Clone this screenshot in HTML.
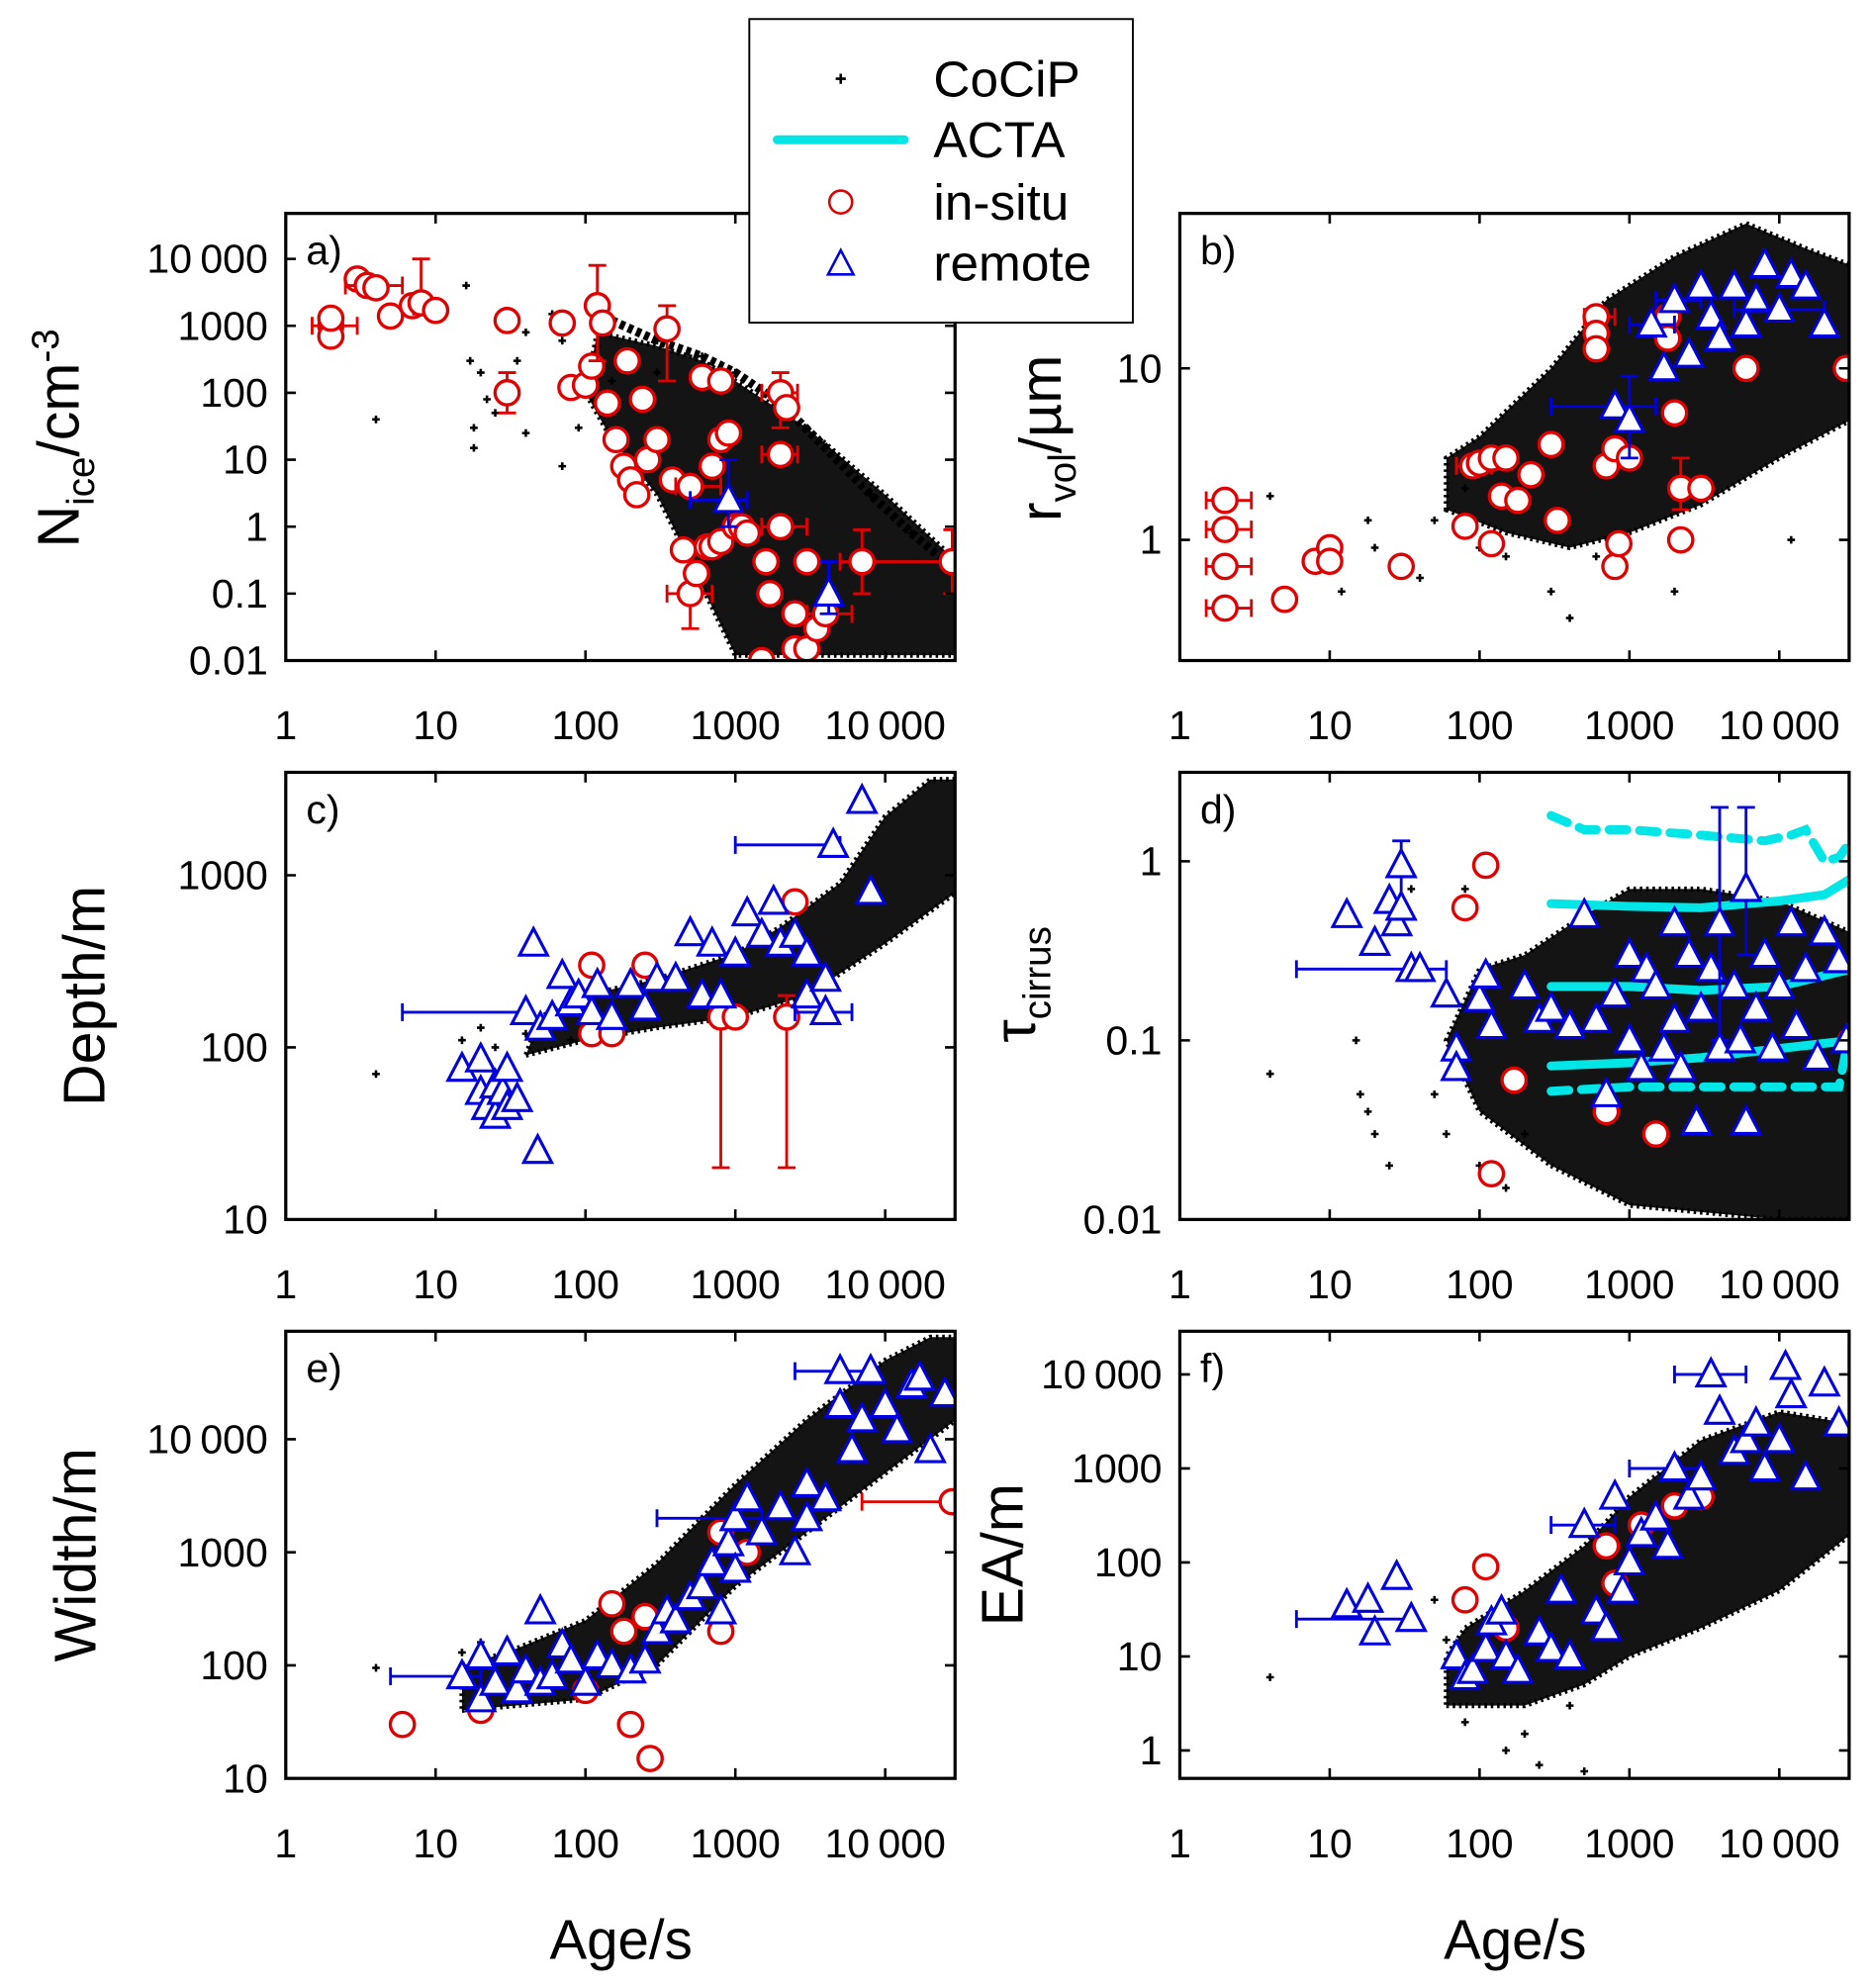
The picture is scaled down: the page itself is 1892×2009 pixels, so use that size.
<!DOCTYPE html>
<html><head><meta charset="utf-8"><style>
html,body{margin:0;padding:0;background:#fff;}
svg{display:block;font-family:"Liberation Sans",Arial,sans-serif;}
</style></head><body>
<svg id="fig" width="1892" height="2009" viewBox="0 0 1474 1565" preserveAspectRatio="none" xmlns="http://www.w3.org/2000/svg">
<rect width="1474" height="1565" fill="#fff"/>
</svg>
<script>
// ---------- DATA ----------
// each point: [age_s, value, xLo, xHi, yLo, yHi]  (0 = no error bar)
const cocipPolyA=[[120,800],[300,500],[600,300],[1000,150],[3000,30],[10000,3],[30000,0.3],[30000,0.012],[1000,0.012],[500,0.3],[300,3],[150,20],[100,100]];
const cocipStripeA=[[150,1200],[300,600],[600,350],[1000,200],[2000,70],[4000,15],[8000,3],[15000,0.8],[28000,0.25]];
const cocipPtsA=[[4,40],[16,4000],[17,300],[18,30],[18,15],[20,200],[22,80],[25,50],[30,120],[35,300],[40,25],[40,800],[60,1500],[70,600],[90,150],[90,30],[70,8],[120,500],[150,150],[200,400],[250,90],[300,200],[1500,0.013]];
const insituA=[[2,1000,1.5,3,0,0],[2,700,0,0,0,0],[2,1300,0,0,0,0],[3,5000,0,0,0,0],[3.5,4000,2.5,6,0,0],[4,3700,0,0,0,0],[5,1400,0,0,0,0],[7,2000,0,0,0,0],[8,2200,0,0,1500,10000],[10,1700,0,0,0,0],[30,1200,0,0,0,0],[30,100,0,0,50,200],[70,1100,0,0,0,0],[80,120,0,0,0,0],[100,130,0,0,0,0],[110,250,0,0,0,0],[120,2000,0,0,300,8000],[130,1100,0,0,0,0],[140,70,0,0,0,0],[160,20,0,0,0,0],[180,8,0,0,0,0],[190,300,0,0,0,0],[200,5,0,0,0,0],[220,3,0,0,0,0],[240,80,0,0,0,0],[260,10,0,0,0,0],[300,20,0,0,0,0],[350,900,0,0,150,2000],[380,5,0,0,0,0],[450,0.45,0,0,0,0],[500,0.1,350,700,0.03,0.3],[500,4,400,800,0,0],[550,0.2,0,0,0,0],[600,170,0,0,0,0],[650,0.5,0,0,0,0],[700,0.5,0,0,0,0],[700,8,0,0,0,0],[800,150,0,0,0,0],[800,20,0,0,0,0],[800,0.6,0,0,0,0],[900,25,0,0,0,0],[1000,1,0,0,0,0],[1100,1,0,0,0,0],[1200,0.8,0,0,0,0],[1500,0.01,0,0,0,0],[1600,0.3,0,0,0,0],[1700,0.1,0,0,0,0],[2000,100,1500,2600,30,200],[2000,1,1500,3000,0,0],[2000,12,1500,2600,0,0],[2200,60,0,0,0,0],[2500,0.05,0,0,0,0],[2500,0.015,0,0,0,0],[3000,0.3,0,0,0,0],[3000,0.015,0,0,0,0],[3500,0.03,0,0,0,0],[4000,0.05,3000,6000,0,0],[7000,0.3,5000,30000,0.1,0.9],[28000,0.3,0,0,0.1,0.9]];
const remoteA=[[900,2.5,500,1200,1,10],[4200,0.1,0,0,0.05,0.3]];

const cocipPolyB=[[60,1.5],[150,1.1],[400,0.9],[1000,1.1],[3000,1.6],[10000,3],[30000,5],[30000,40],[15000,50],[6000,70],[2000,45],[700,25],[300,10],[100,4],[60,3]];
const cocipPtsB=[[4,1.8],[12,0.5],[18,1.3],[20,0.9],[30,0.8],[40,0.6],[50,1.3],[80,2],[100,0.9],[150,0.8],[300,0.5],[400,0.35],[600,0.8],[2000,0.5],[12000,1]];
const insituB=[[2,1.7,1.5,3,0,0],[2,1.15,1.5,3,0,0],[2,0.7,1.5,3,0,0],[2,0.4,1.5,3,0,0],[5,0.45,0,0,0,0],[8,0.75,0,0,0,0],[10,0.9,0,0,0,0],[10,0.75,0,0,0,0],[30,0.7,0,0,0,0],[80,1.2,0,0,0,0],[90,2.7,70,120,0,0],[100,2.8,0,0,0,0],[120,3,0,0,0,0],[120,0.95,0,0,0,0],[140,1.8,0,0,0,0],[150,3,0,0,0,0],[180,1.7,0,0,0,0],[220,2.4,0,0,0,0],[300,3.6,0,0,0,0],[330,1.3,0,0,0,0],[600,20,500,800,0,0],[600,16,0,0,0,0],[600,13,0,0,0,0],[700,2.7,0,0,0,0],[800,3.4,0,0,0,0],[800,0.7,0,0,0,0],[850,0.95,0,0,0,0],[1000,3,0,0,0,0],[1800,20,0,0,0,0],[1800,15,0,0,0,0],[2000,5.5,0,0,0,0],[2200,1,0,0,0,0],[2200,2,0,0,1.5,3],[3000,2,0,0,0,0],[6000,10,0,0,0,0],[28000,10,0,0,0,0]];
const remoteB=[[800,6,300,1500,0,0],[1000,5,0,0,3,9],[1400,18,1000,2000,0,0],[1700,10,0,0,0,0],[2000,25,1500,3000,0,0],[2500,12,0,0,0,0],[3000,30,0,0,0,0],[3500,20,0,0,0,0],[4000,15,0,0,0,0],[5000,30,0,0,0,0],[6000,18,0,0,0,0],[7000,25,0,0,0,0],[8000,40,0,0,0,0],[10000,22,5000,20000,0,0],[12000,35,0,0,0,0],[15000,30,0,0,0,0],[20000,18,0,0,0,0]];

const cocipPolyC=[[40,90],[100,110],[300,130],[1000,150],[3000,200],[10000,400],[30000,800],[30000,3600],[20000,3600],[10000,2200],[5000,900],[2000,500],[1000,350],[300,250],[100,200],[50,150]];
const cocipPtsC=[[4,70],[15,110],[20,130],[25,100],[40,120],[60,140],[80,110]];
const insituC=[[110,300,0,0,0,0],[110,120,0,0,0,0],[150,120,0,0,0,0],[250,300,0,0,0,0],[800,150,0,0,20,200],[1000,150,0,0,0,0],[2200,150,0,0,20,200],[2500,700,0,0,0,0]];
const remoteC=[[15,75,0,0,0,0],[20,85,0,0,0,0],[20,55,0,0,0,0],[22,45,0,0,0,0],[25,40,0,0,0,0],[25,60,0,0,0,0],[28,55,0,0,0,0],[30,75,0,0,0,0],[30,45,0,0,0,0],[35,50,0,0,0,0],[40,160,6,40,0,0],[45,400,0,0,0,0],[48,25,0,0,0,0],[50,130,0,0,0,0],[60,150,0,0,0,0],[70,260,0,0,0,0],[80,180,0,0,0,0],[90,200,0,0,0,0],[110,160,0,0,0,0],[120,230,0,0,0,0],[150,150,0,0,0,0],[200,230,0,0,0,0],[250,170,0,0,0,0],[300,250,0,0,0,0],[400,250,0,0,0,0],[500,460,0,0,0,0],[600,200,0,0,0,0],[700,400,0,0,0,0],[800,200,0,0,0,0],[1000,350,0,0,0,0],[1200,600,0,0,0,0],[1500,450,0,0,0,0],[1800,700,0,0,0,0],[2000,400,0,0,0,0],[2500,450,0,0,0,0],[3000,350,0,0,0,0],[3000,200,0,0,0,0],[4000,250,0,0,0,0],[4000,160,2500,6000,0,0],[4500,1500,1000,5000,0,0],[7000,2700,0,0,0,0],[8000,800,0,0,0,0]];

const cocipPolyD=[[300,0.02],[1000,0.012],[10000,0.01],[30000,0.01],[30000,0.4],[10000,0.6],[3000,0.7],[1000,0.7],[500,0.5],[200,0.3],[100,0.25],[60,0.1],[100,0.04]];
const cocipPtsD=[[4,0.065],[15,0.1],[16,0.05],[18,0.04],[20,0.03],[25,0.02],[50,0.05],[60,0.03],[100,0.02],[150,0.015],[200,0.03],[35,0.7],[80,0.7]];
const insituD=[[80,0.55,0,0,0,0],[110,0.95,0,0,0,0],[120,0.018,0,0,0,0],[170,0.06,0,0,0,0],[700,0.04,0,0,0,0],[1500,0.03,0,0,0,0],[30000,0.1,0,0,0,0]];
const remoteD=[[13,0.5,0,0,0,0],[20,0.35,0,0,0,0],[25,0.6,0,0,0,0],[28,0.45,0,0,0,0],[30,0.95,0,0,0.5,1.3],[30,0.55,0,0,0,0],[35,0.25,6,60,0,0],[40,0.25,0,0,0,0],[60,0.18,0,0,0,0],[70,0.09,0,0,0,0],[70,0.07,0,0,0,0],[100,0.17,0,0,0,0],[110,0.23,0,0,0,0],[120,0.12,0,0,0,0],[200,0.2,0,0,0,0],[250,0.13,0,0,0,0],[300,0.15,0,0,0,0],[400,0.12,0,0,0,0],[500,0.5,0,0,0,0],[600,0.13,0,0,0,0],[700,0.05,0,0,0,0],[800,0.18,0,0,0,0],[1000,0.1,0,0,0,0],[1000,0.3,0,0,0,0],[1200,0.07,0,0,0,0],[1300,0.25,0,0,0,0],[1500,0.2,0,0,0,0],[1700,0.09,0,0,0,0],[2000,0.13,0,0,0,0],[2000,0.45,0,0,0,0],[2200,0.07,0,0,0,0],[2500,0.3,0,0,0,0],[2800,0.035,0,0,0,0],[3000,0.15,0,0,0,0],[3500,0.25,0,0,0,0],[4000,0.45,0,0,0.1,2],[4000,0.09,0,0,0,0],[5000,0.2,0,0,0,0],[5500,0.1,0,0,0,0],[6000,0.7,0,0,0.3,2],[6000,0.035,0,0,0,0],[7000,0.15,0,0,0,0],[8000,0.3,0,0,0,0],[9000,0.09,0,0,0,0],[10000,0.2,0,0,0,0],[12000,0.45,0,0,0,0],[13000,0.12,0,0,0,0],[15000,0.25,0,0,0,0],[18000,0.08,0,0,0,0],[20000,0.4,0,0,0,0],[25000,0.28,0,0,0,0],[28000,0.1,0,0,0,0]];
const actaUpperD=[[300,1.8],[500,1.5],[1000,1.5],[3000,1.4],[8000,1.3],[12000,1.4],[15000,1.5],[20000,1.0],[25000,1.05],[30000,1.3]];
const actaMidD=[[300,0.58],[1000,0.56],[3000,0.55],[10000,0.6],[20000,0.65],[30000,0.8]];
const actaLowD=[[300,0.2],[1000,0.2],[3000,0.19],[10000,0.2],[30000,0.25]];
const actaLow2D=[[300,0.072],[1000,0.075],[3000,0.08],[10000,0.09],[30000,0.1]];
const actaBotD=[[300,0.052],[1000,0.055],[3000,0.055],[10000,0.055],[25000,0.055],[30000,0.12]];

const cocipPolyE=[[15,40],[100,50],[300,100],[1000,500],[3000,1500],[10000,5000],[30000,15000],[30000,80000],[20000,80000],[10000,50000],[3000,15000],[1000,4000],[300,800],[100,250],[30,130],[15,100]];
const cocipPtsE=[[4,95],[15,130],[20,160]];
const insituE=[[6,30,0,0,0,0],[20,40,0,0,0,0],[100,60,0,0,0,0],[150,350,0,0,0,0],[180,200,0,0,0,0],[200,30,0,0,0,0],[250,270,0,0,0,0],[270,15,0,0,0,0],[800,200,0,0,0,0],[800,1500,0,0,0,0],[1200,1000,0,0,0,0],[28000,2800,7000,30000,0,0]];
const remoteE=[[15,80,5,20,0,0],[20,50,0,0,0,0],[20,120,0,0,0,0],[25,70,0,0,0,0],[30,130,0,0,0,0],[35,60,0,0,0,0],[40,90,0,0,0,0],[50,300,0,0,0,0],[50,70,0,0,0,0],[60,80,0,0,0,0],[70,150,0,0,0,0],[80,110,0,0,0,0],[100,70,0,0,0,0],[120,120,0,0,0,0],[150,100,0,0,0,0],[200,90,0,0,0,0],[250,110,0,0,0,0],[300,200,0,0,0,0],[350,300,0,0,0,0],[400,250,0,0,0,0],[500,400,0,0,0,0],[600,500,0,0,0,0],[700,800,0,0,0,0],[800,300,0,0,0,0],[900,1200,0,0,0,0],[1000,2000,300,1500,0,0],[1000,700,0,0,0,0],[1200,3000,0,0,0,0],[1500,1500,0,0,0,0],[2000,2500,0,0,0,0],[2500,1000,0,0,0,0],[3000,4000,0,0,0,0],[3000,2000,0,0,0,0],[4000,3000,0,0,0,0],[5000,20000,0,0,0,0],[5000,40000,2500,8000,0,0],[6000,8000,0,0,0,0],[7000,15000,0,0,0,0],[8000,40000,0,0,0,0],[10000,20000,0,0,0,0],[12000,12000,0,0,0,0],[15000,30000,0,0,0,0],[17000,35000,0,0,0,0],[20000,8000,0,0,0,0],[25000,25000,0,0,0,0]];

const cocipPolyF=[[60,3],[200,3],[500,5],[1000,10],[3000,20],[10000,50],[30000,200],[30000,3000],[10000,4000],[3000,2000],[1000,500],[500,150],[200,50],[80,20],[60,10]];
const cocipPtsF=[[4,6],[50,40],[60,15],[80,2],[150,1],[200,1.5],[250,0.7],[500,0.6],[400,3]];
const insituF=[[80,40,0,0,0,0],[110,90,0,0,0,0],[150,20,0,0,0,0],[700,150,0,0,0,0],[800,60,0,0,0,0],[1200,250,0,0,0,0],[2000,400,0,0,0,0],[3000,500,0,0,0,0]];
const remoteF=[[13,35,0,0,0,0],[18,40,0,0,0,0],[20,18,0,0,0,0],[28,70,0,0,0,0],[35,25,6,35,0,0],[70,10,0,0,0,0],[80,6,0,0,0,0],[90,7,0,0,0,0],[110,12,0,0,0,0],[120,23,0,0,0,0],[140,30,0,0,0,0],[150,10,0,0,0,0],[180,7,0,0,0,0],[250,18,0,0,0,0],[300,12,0,0,0,0],[350,50,0,0,0,0],[400,10,0,0,0,0],[500,250,300,800,0,0],[600,30,0,0,0,0],[700,20,0,0,0,0],[800,500,0,0,0,0],[900,50,0,0,0,0],[1000,100,0,0,0,0],[1200,200,0,0,0,0],[1500,300,0,0,0,0],[1800,150,0,0,0,0],[2000,1000,1000,3000,0,0],[2500,500,0,0,0,0],[3000,800,0,0,0,0],[3500,10000,2000,6000,0,0],[4000,4000,0,0,0,0],[5000,1500,0,0,0,0],[6000,2000,0,0,0,0],[7000,3000,0,0,0,0],[8000,1000,0,0,0,0],[10000,2000,0,0,0,0],[11000,12000,0,0,0,0],[12000,6000,0,0,0,0],[15000,800,0,0,0,0],[20000,8000,0,0,0,0],[25000,3000,0,0,0,0]];

const xTickLabels=["1","10","100","1000","10\u2009000"];
const yTicksA=["0.01","0.1","1","10","100","1000","10\u2009000"];
const yTicksB=["1","10"];
const yTicksC=["10","100","1000"];
const yTicksD=["0.01","0.1","1"];
const yTicksE=["10","100","1000","10\u2009000"];
const yTicksF=["1","10","100","1000","10\u2009000"];

// ---------- DRAW ----------
const NS="http://www.w3.org/2000/svg";
const svg=document.getElementById('fig');
function mk(tag,attrs,parent){const e=document.createElementNS(NS,tag);for(const k in attrs)e.setAttribute(k,attrs[k]);(parent||svg).appendChild(e);return e;}
const DEC=118;
function makeAxes(left,top,bottom,refVal,refPix,pxPerDec){
  return {x:a=>left+Math.log10(a)*DEC, y:v=>refPix-(Math.log10(v)-Math.log10(refVal))*pxPerDec, left,top,bottom,right:left+527};
}
function drawPanel(name,ax,poly,stripe,pts){
  const g=mk('g',{});
  
  
  const cid='clip-'+name;
  const cp=mk('clipPath',{id:cid},g);mk('rect',{x:ax.left,y:ax.top,width:ax.right-ax.left,height:ax.bottom-ax.top},cp);
  const plot=mk('g',{'clip-path':'url(#'+cid+')'},g);
  const cloud=mk('polygon',{points:poly.map(p=>ax.x(p[0])+','+ax.y(p[1])).join(' '),fill:'#000','fill-opacity':0.92,stroke:'#000','stroke-width':4,'stroke-dasharray':'2 3'},plot);
  
  
  const allPts=pts.concat(stripe||[]);
  allPts.forEach(p=>{const cx=ax.x(p[0]),cy=ax.y(p[1]);
    const c=mk('path',{d:`M${cx-3},${cy}h6M${cx},${cy-3}v6`,stroke:'#000','stroke-width':2},plot);
    
    });
  if(stripe){const s=mk('polyline',{points:stripe.map(p=>ax.x(p[0])+','+ax.y(p[1])).join(' '),fill:'none',stroke:'#000','stroke-width':7,'stroke-dasharray':'4 3'},plot);
    
    }
  return {g,plot};
}
function errs(par,ax,p,col){
  const cx=ax.x(p[0]),cy=ax.y(p[1]);const w=2.2,c=7;
  if(p[2]){const x1=ax.x(p[2]),x2=ax.x(p[3]);mk('path',{d:`M${x1},${cy}H${x2}M${x1},${cy-c}v${2*c}M${x2},${cy-c}v${2*c}`,stroke:col,'stroke-width':w,fill:'none'},par);}
  if(p[4]){const y1=ax.y(p[4]),y2=ax.y(p[5]);mk('path',{d:`M${cx},${y1}V${y2}M${cx-c},${y1}h${2*c}M${cx-c},${y2}h${2*c}`,stroke:col,'stroke-width':w,fill:'none'},par);}
}
function circles(par,ax,arr){arr.forEach(p=>{errs(par,ax,p,'#e00000');
  const c=mk('circle',{cx:ax.x(p[0]),cy:ax.y(p[1]),r:9.5,fill:'#fff',stroke:'#e00000','stroke-width':2.6},par);
  
  });}
function tris(par,ax,arr){arr.forEach(p=>{errs(par,ax,p,'#0000e0');
  const cx=ax.x(p[0]),cy=ax.y(p[1]);
  const t=mk('polygon',{points:`${cx},${cy-12} ${cx-11},${cy+9} ${cx+11},${cy+9}`,fill:'#fff',stroke:'#0000e0','stroke-width':2.4},par);
  
  });}
function frame(g,ax,letter,yTicks,firstVal,xlabels){
  mk('rect',{x:ax.left,y:ax.top,width:ax.right-ax.left,height:ax.bottom-ax.top,fill:'none',stroke:'#000','stroke-width':2.5},g);
  for(let i=0;i<5;i++){const x=ax.left+i*DEC;
    mk('path',{d:`M${x},${ax.bottom}v-8M${x},${ax.top}v8`,stroke:'#000','stroke-width':2},g);
    const t=mk('text',{x:x,y:ax.bottom+62,'font-size':32,'text-anchor':'middle'},g);t.textContent=xlabels[i];
    
    }
  yTicks.forEach((lab,i)=>{const y=ax.y(firstVal*Math.pow(10,i));
    mk('path',{d:`M${ax.left},${y}h8M${ax.right},${y}h-8`,stroke:'#000','stroke-width':2},g);
    const t=mk('text',{x:ax.left-14,y:y+11,'font-size':32,'text-anchor':'end'},g);t.textContent=lab;
    
    });
  const l=mk('text',{x:ax.left+16,y:ax.top+40,'font-size':32},g);l.textContent=letter;
  
  
}
function ylab(html,cx,cy,name){const t=mk('text',{x:0,y:0,'font-size':46,'text-anchor':'middle',transform:`translate(${cx},${cy}) rotate(-90)`});t.innerHTML=html;
  
  }

const axA=makeAxes(225,168,520,0.01,520,52.7);
const axB=makeAxes(929,168,520,1,425,135);
const axC=makeAxes(225,608,960,10,960,135.5);
const axD=makeAxes(929,608,960,0.01,960,141);
const axE=makeAxes(225,1048,1400,10,1400,89);
const axF=makeAxes(929,1048,1400,1,1378,74);

let P;
P=drawPanel('panel-a-nice',axA,cocipPolyA,cocipStripeA,cocipPtsA);circles(P.plot,axA,insituA);tris(P.plot,axA,remoteA);frame(P.g,axA,'a)',yTicksA,0.01,xTickLabels);
P=drawPanel('panel-b-rvol',axB,cocipPolyB,null,cocipPtsB);circles(P.plot,axB,insituB);tris(P.plot,axB,remoteB);frame(P.g,axB,'b)',yTicksB,1,xTickLabels);
P=drawPanel('panel-c-depth',axC,cocipPolyC,null,cocipPtsC);circles(P.plot,axC,insituC);tris(P.plot,axC,remoteC);frame(P.g,axC,'c)',yTicksC,10,xTickLabels);
P=drawPanel('panel-d-tau',axD,cocipPolyD,null,cocipPtsD);
[[actaUpperD,'14 10'],[actaMidD,''],[actaLowD,''],[actaLow2D,''],[actaBotD,'14 10']].forEach(([arr,da])=>{
  const l=mk('polyline',{points:arr.map(p=>axD.x(p[0])+','+axD.y(p[1])).join(' '),fill:'none',stroke:'#00e5e5','stroke-width':7,'stroke-dasharray':da,'stroke-linecap':'round'},P.plot);
  
  });
circles(P.plot,axD,insituD);tris(P.plot,axD,remoteD);frame(P.g,axD,'d)',yTicksD,0.01,xTickLabels);
P=drawPanel('panel-e-width',axE,cocipPolyE,null,cocipPtsE);circles(P.plot,axE,insituE);tris(P.plot,axE,remoteE);frame(P.g,axE,'e)',yTicksE,10,xTickLabels);
P=drawPanel('panel-f-ea',axF,cocipPolyF,null,cocipPtsF);circles(P.plot,axF,insituF);tris(P.plot,axF,remoteF);frame(P.g,axF,'f)',yTicksF,1,xTickLabels);

ylab('N<tspan font-size="30" dy="12">ice</tspan><tspan dy="-12">/cm</tspan><tspan font-size="30" dy="-16">-3</tspan>',62,345,'y-axis-title-nice');
ylab('r<tspan font-size="30" dy="12">vol</tspan><tspan dy="-12">/µm</tspan>',835,345,'y-axis-title-rvol');
ylab('Depth/m',82,784,'y-axis-title-depth');
ylab('τ<tspan font-size="30" dy="12">cirrus</tspan>',815,775,'y-axis-title-tau');
ylab('Width/m',75,1224,'y-axis-title-width');
ylab('EA/m',805,1224,'y-axis-title-ea');
[489,1193].forEach(x=>{const t=mk('text',{x:x,y:1542,'font-size':44,'text-anchor':'middle'});t.textContent='Age/s';
  
  });

// legend
const lg=mk('g',{});


mk('rect',{x:590,y:15,width:302,height:239,fill:'#fff',stroke:'#000','stroke-width':1.5},lg);
mk('path',{d:'M658,62h8M662,58v8',stroke:'#000','stroke-width':2},lg);
mk('line',{x1:612,y1:110,x2:712,y2:110,stroke:'#00e5e5','stroke-width':7,'stroke-linecap':'round'},lg);
mk('circle',{cx:662,cy:159,r:9,fill:'#fff',stroke:'#e00000','stroke-width':2},lg);
mk('polygon',{points:'662,197 652,216 672,216',fill:'#fff',stroke:'#0000e0','stroke-width':2},lg);
[['CoCiP',62],['ACTA',110],['in-situ',159],['remote',207]].forEach(([s,y])=>{const t=mk('text',{x:735,y:y+14,'font-size':40},lg);t.textContent=s;
  
  });
</script>
</body></html>
